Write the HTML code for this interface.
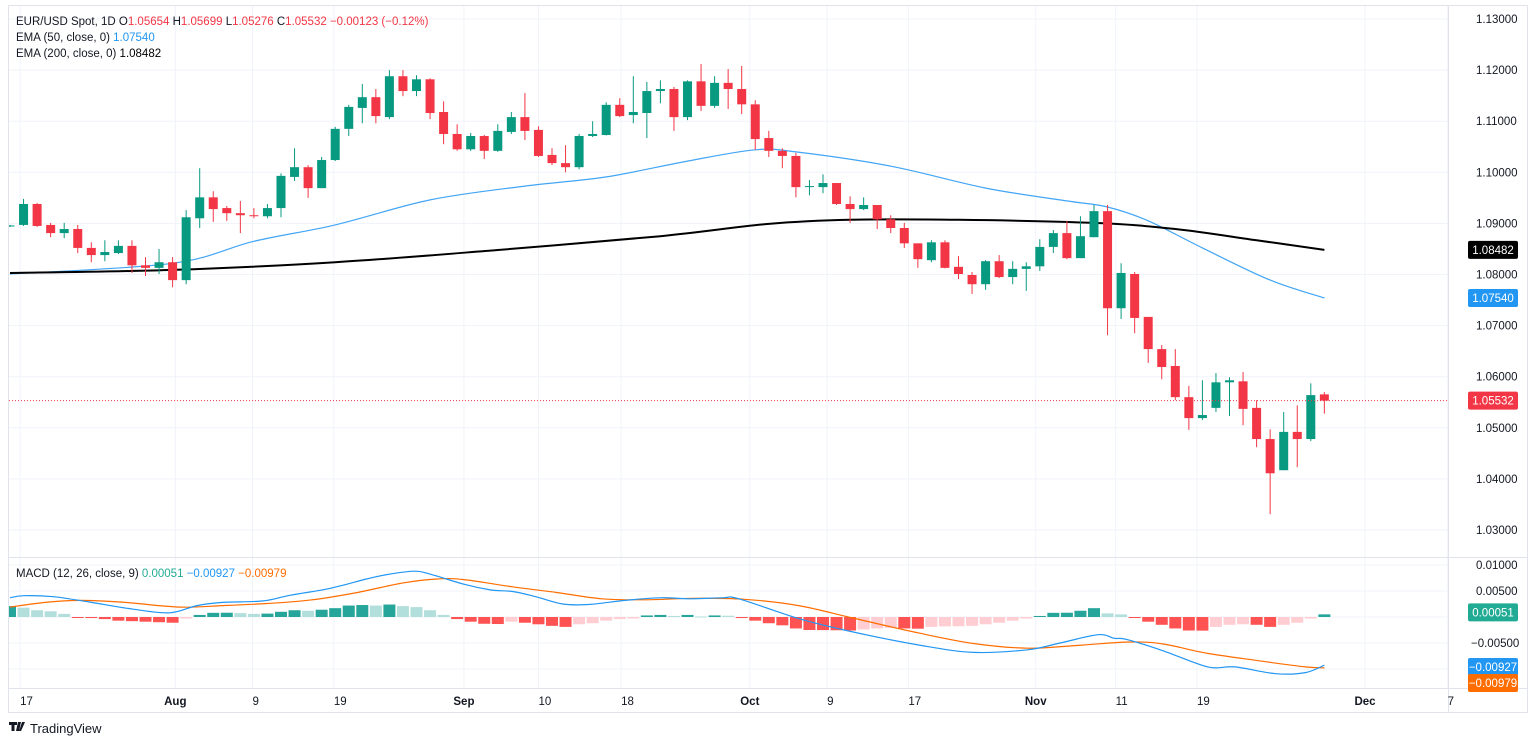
<!DOCTYPE html>
<html><head><meta charset="utf-8"><style>
body{margin:0;background:#fff;width:1536px;height:744px;overflow:hidden;font-family:"Liberation Sans",sans-serif}
svg text{font-family:"Liberation Sans",sans-serif}
</style></head><body>
<svg id="chart" width="1536" height="744" xmlns="http://www.w3.org/2000/svg"></svg>
<script>
const opens=[1.0894,1.0897,1.0938,1.0897,1.0881,1.0889,1.0852,1.0838,1.0842,1.0856,1.0818,1.0813,1.0824,1.0789,1.0910,1.0951,1.0930,1.0920,1.0916,1.0914,1.0930,1.0991,1.1010,1.0969,1.1024,1.1085,1.1126,1.1147,1.1108,1.1188,1.1159,1.1182,1.1118,1.1075,1.1045,1.1071,1.1042,1.1079,1.1108,1.1083,1.1034,1.1018,1.1010,1.1071,1.1073,1.1132,1.1112,1.1116,1.1159,1.1163,1.1108,1.1178,1.1130,1.1175,1.1163,1.1133,1.1067,1.1042,1.1032,1.0971,1.0971,1.0979,1.0938,1.0928,1.0936,1.0908,1.0891,1.0861,1.0828,1.0863,1.0815,1.0799,1.0781,1.0826,1.0795,1.0811,1.0816,1.0854,1.0881,1.0832,1.0873,1.0924,1.0734,1.0801,1.0717,1.0654,1.0621,1.0560,1.0519,1.0539,1.0589,1.0591,1.0539,1.0478,1.0417,1.0492,1.0478,1.05654];
const highs=[1.0897,1.0948,1.0940,1.0901,1.0901,1.0897,1.0863,1.0867,1.0867,1.0867,1.0834,1.0850,1.0834,1.0926,1.1008,1.0963,1.0934,1.0944,1.0930,1.0938,1.0998,1.1047,1.1014,1.1030,1.1089,1.1132,1.1173,1.1163,1.1200,1.1200,1.1190,1.1184,1.1139,1.1094,1.1077,1.1073,1.1094,1.1118,1.1155,1.1090,1.1047,1.1053,1.1075,1.1100,1.1137,1.1145,1.1188,1.1177,1.1180,1.1167,1.1180,1.1212,1.1188,1.1202,1.1208,1.1141,1.1081,1.1047,1.1038,1.0985,1.0996,1.0979,1.0953,1.0951,1.0936,1.0916,1.0901,1.0861,1.0867,1.0867,1.0836,1.0805,1.0828,1.0838,1.0826,1.0824,1.0869,1.0887,1.0905,1.0914,1.0936,1.0936,1.0822,1.0805,1.0717,1.0662,1.0654,1.0582,1.0593,1.0607,1.0599,1.0609,1.0554,1.0497,1.0531,1.0544,1.0587,1.05699];
const lows=[1.0893,1.0895,1.0893,1.0873,1.0871,1.0842,1.0824,1.0826,1.0840,1.0803,1.0797,1.0801,1.0775,1.0781,1.0891,1.0903,1.0905,1.0881,1.0910,1.0910,1.0912,1.0983,1.0950,1.0969,1.1022,1.1071,1.1096,1.1096,1.1104,1.1149,1.1149,1.1104,1.1055,1.1042,1.1042,1.1026,1.1040,1.1075,1.1063,1.1030,1.1014,1.1000,1.1006,1.1069,1.1072,1.1108,1.1096,1.1067,1.1135,1.1081,1.1102,1.1120,1.1126,1.1124,1.1114,1.1044,1.1030,1.1008,1.0951,1.0955,1.0959,1.0936,1.0901,1.0926,1.0889,1.0881,1.0852,1.0813,1.0824,1.0812,1.0791,1.0762,1.0770,1.0793,1.0781,1.0768,1.0807,1.0842,1.0830,1.0832,1.0873,1.0681,1.0713,1.0685,1.0627,1.0595,1.0554,1.0496,1.0515,1.0531,1.0523,1.0505,1.0462,1.0331,1.0417,1.0423,1.0474,1.05276];
const closes=[1.0896,1.0938,1.0895,1.0881,1.0889,1.0852,1.0838,1.0844,1.0856,1.0818,1.0813,1.0824,1.0789,1.0912,1.0951,1.0928,1.0920,1.0916,1.0914,1.0930,1.0993,1.1010,1.0969,1.1024,1.1085,1.1128,1.1147,1.1110,1.1188,1.1159,1.1182,1.1116,1.1075,1.1045,1.1071,1.1042,1.1081,1.1108,1.1081,1.1032,1.1018,1.1010,1.1071,1.1075,1.1132,1.1110,1.1118,1.1159,1.1163,1.1108,1.1178,1.1130,1.1175,1.1163,1.1133,1.1065,1.1042,1.1032,1.0971,1.0973,1.0979,1.0938,1.0928,1.0936,1.0908,1.0891,1.0861,1.0830,1.0863,1.0813,1.0801,1.0781,1.0826,1.0795,1.0811,1.0816,1.0854,1.0881,1.0832,1.0875,1.0924,1.0734,1.0803,1.0715,1.0654,1.0619,1.0560,1.0519,1.0525,1.0589,1.0593,1.0537,1.0478,1.0411,1.0492,1.0478,1.0564,1.05532];
const ema50Idx=[0,12,18,24,31,38,44,50,55,58,65,72,78,81,84,88,93,97];
const ema50Val=[1.0801,1.0822,1.0865,1.0897,1.0946,1.0973,1.0991,1.1022,1.1044,1.1040,1.1012,1.0969,1.0944,1.0932,1.0905,1.0852,1.0789,1.0754];
const ema200Idx=[0,12,24,36,48,56,62,70,80,86,92,97];
const ema200Val=[1.0803,1.0809,1.0824,1.0848,1.0875,1.0899,1.0907,1.0907,1.0901,1.0889,1.0867,1.08482];
const histVals=[0.0021,0.0018,0.0013,0.0011,0.0006,-0.0001,-0.0002,-0.0004,-0.0007,-0.0008,-0.0009,-0.0010,-0.0011,-0.0003,0.0004,0.0008,0.00082,0.00075,0.0006,0.00065,0.0010,0.0013,0.0012,0.0014,0.0017,0.0022,0.0023,0.0022,0.0024,0.0021,0.0019,0.0013,0.0004,-0.0004,-0.0009,-0.0013,-0.00135,-0.0009,-0.0011,-0.0014,-0.0017,-0.0019,-0.0014,-0.0012,-0.0007,-0.0004,-0.0003,0.0003,0.0004,0.0002,0.0004,0.0001,0.0003,0.00025,-0.0002,-0.0007,-0.0012,-0.0016,-0.0022,-0.0025,-0.00252,-0.00255,-0.0026,-0.0024,-0.0022,-0.0021,-0.0022,-0.00225,-0.0019,-0.0018,-0.00178,-0.0017,-0.0014,-0.0011,-0.0007,-0.0003,0.0002,0.0008,0.00082,0.0012,0.0017,0.0007,0.0005,-0.0002,-0.0009,-0.0015,-0.0022,-0.0026,-0.00262,-0.0019,-0.0015,-0.0014,-0.0015,-0.0019,-0.0015,-0.0011,-0.0003,0.00051];
const macdIdx=[0,1,3.2,5.8,9.1,11.8,13.8,15.7,18.7,20.7,23.6,26.3,27.9,29.9,31.2,33.5,35.5,37.1,38.8,40.8,42.7,45.4,48,50.2,52.6,53.8,58.2,61.9,67.1,71.1,75.1,77.5,80.3,81.5,82.4,85.1,88.4,90.4,93.4,95.6,97];
const macdVal=[0.0037,0.0041,0.0039,0.0029,0.0015,0.0008,0.0022,0.0028,0.0031,0.0042,0.0055,0.0073,0.0082,0.0088,0.0081,0.0063,0.0052,0.0049,0.0039,0.0025,0.0024,0.0032,0.0037,0.0035,0.0037,0.0035,-0.0003,-0.0027,-0.0054,-0.0068,-0.0063,-0.0050,-0.0034,-0.0041,-0.0043,-0.0065,-0.0096,-0.0096,-0.0109,-0.0107,-0.00927];
const sigIdx=[0,2.6,5.2,8.5,12.5,15.7,19,22.3,25.6,28.9,31.5,33.5,37.1,40.4,43.7,47,50.3,54.2,58.2,62.2,67.1,71.1,75.1,79.1,82.7,85.1,88.4,92.4,95.6,97];
const sigVal=[0.0019,0.0028,0.0032,0.0028,0.0019,0.0022,0.0026,0.0033,0.0047,0.0065,0.0073,0.0072,0.0058,0.0047,0.0035,0.0033,0.0036,0.0034,0.0022,-0.0002,-0.0031,-0.0051,-0.0060,-0.0054,-0.0048,-0.0052,-0.0070,-0.0085,-0.0096,-0.00979];
const priceTicks=[1.13,1.12,1.11,1.10,1.09,1.08,1.07,1.06,1.05,1.04,1.03];
const macdTicks=[0.01,0.005,-0.005];
const xTickLabels=["17","Aug","9","19","Sep","10","18","Oct","9","17","Nov","11","19","Dec","7"];
const xTickIdx=[0.75,12.2,17.9,23.9,33.5,39,45.1,54.6,60.3,66.3,75.7,81.6,87.6,100,106.1];
const xTickBold=[0,1,0,0,1,0,0,1,0,0,1,0,0,1,0];

const GREEN='#089981',RED='#f23645';
const svg=document.getElementById('chart');
const NS='http://www.w3.org/2000/svg';
function X(i){return 10+i*13.55;}
function PY(p){return 19+(1.13-p)*5110;}
function MY(v){return 617-v*5200;}
function mk(tag,attrs,parent){const e=document.createElementNS(NS,tag);for(const k in attrs)e.setAttribute(k,attrs[k]);(parent||svg).appendChild(e);return e;}
function txt(s,attrs,parent){const e=mk('text',attrs,parent);e.textContent=s;return e;}

const defs=mk('defs',{});
const cp1=mk('clipPath',{id:'cpPrice'},defs);mk('rect',{x:9,y:6,width:1439,height:551},cp1);
const cp2=mk('clipPath',{id:'cpMacd'},defs);mk('rect',{x:9,y:558,width:1439,height:130},cp2);

const frame=mk('rect',{x:8.5,y:5.5,width:1519,height:707,fill:'none',stroke:'#e0e3eb'});


const grid=mk('g',{});


priceTicks.forEach(p=>{mk('line',{x1:9,x2:1448,y1:PY(p),y2:PY(p),stroke:'#f0f3fa'},grid);});
[0.01,0.005,0,-0.005,-0.01].forEach(v=>{mk('line',{x1:9,x2:1448,y1:MY(v),y2:MY(v),stroke:'#f0f3fa'},grid);});
xTickIdx.forEach(i=>{mk('line',{x1:X(i),x2:X(i),y1:6,y2:688,stroke:'#f0f3fa'},grid);});
mk('line',{x1:1448.5,x2:1448.5,y1:6,y2:712,stroke:'#e0e3eb'});
mk('line',{x1:9,x2:1527,y1:557.5,y2:557.5,stroke:'#e0e3eb'});
mk('line',{x1:9,x2:1527,y1:688.5,y2:688.5,stroke:'#e0e3eb'});

const pricePane=mk('g',{'clip-path':'url(#cpPrice)'});


const macdPane=mk('g',{'clip-path':'url(#cpMacd)'});



function line(idx,vals,yf,color,w,name,parent){
  const pts=idx.map((i,k)=>[X(i),yf(vals[k])]);
  let d='M'+pts[0][0].toFixed(1)+' '+pts[0][1].toFixed(1);
  for(let k=0;k<pts.length-1;k++){
    const p0=pts[Math.max(0,k-1)],p1=pts[k],p2=pts[k+1],p3=pts[Math.min(pts.length-1,k+2)];
    const c1x=p1[0]+(p2[0]-p0[0])/6,c1y=p1[1]+(p2[1]-p0[1])/6;
    const c2x=p2[0]-(p3[0]-p1[0])/6,c2y=p2[1]-(p3[1]-p1[1])/6;
    d+=' C'+c1x.toFixed(1)+' '+c1y.toFixed(1)+' '+c2x.toFixed(1)+' '+c2y.toFixed(1)+' '+p2[0].toFixed(1)+' '+p2[1].toFixed(1);
  }
  const e=mk('path',{d:d,fill:'none',stroke:color,'stroke-width':w,'stroke-linejoin':'round'},parent);
  
  
}
line(ema50Idx,ema50Val,PY,'#42a5f5',1.2,'ema50-line',pricePane);
line(ema200Idx,ema200Val,PY,'#000',2,'ema200-line',pricePane);

const cg=mk('g',{},pricePane);


for(let i=0;i<opens.length;i++){
  const o=opens[i],c=closes[i],col=c>=o?GREEN:RED,x=X(i);
  const g=mk('g',{},cg);
  
  
  mk('line',{x1:x,x2:x,y1:PY(highs[i]),y2:PY(lows[i]),stroke:col,'stroke-width':1},g);
  const t=PY(Math.max(o,c)),b=PY(Math.min(o,c));
  mk('rect',{x:x-4.5,y:t,width:9,height:Math.max(1,b-t),fill:col},g);
}
const lastC=closes[closes.length-1];
mk('line',{x1:9,x2:1448,y1:PY(lastC),y2:PY(lastC),stroke:RED,'stroke-dasharray':'1 2'});

const hg=mk('g',{},macdPane);


for(let i=0;i<histVals.length;i++){
  const v=histVals[i],pv=i?histVals[i-1]:v;
  let col;
  if(v>=0)col=v>=pv?'#26a69a':'#b2dfdb';else col=v<=pv?'#ff5252':'#ffcdd2';
  const y0=MY(0),y1=MY(v);
  const r=mk('rect',{x:X(i)-6,y:Math.min(y0,y1),width:12,height:Math.max(1,Math.abs(y1-y0)),fill:col},hg);
  
  
}
line(sigIdx,sigVal,MY,'#ff6d00',1.2,'macd-signal-line',macdPane);
line(macdIdx,macdVal,MY,'#2196f3',1.2,'macd-line',macdPane);

const ax=mk('g',{});


priceTicks.forEach(p=>{txt(p.toFixed(5),{x:1476,y:PY(p)+4,'font-size':11.5,fill:'#131722'},ax);});
const mx=mk('g',{});


macdTicks.forEach(v=>{txt((v<0?'−':'')+Math.abs(v).toFixed(5),{x:v<0?1471:1476,y:MY(v)+4,'font-size':11.5,fill:'#131722'},mx);});
function badge(v,y,col,name){
  const g=mk('g',{});
  
  
  mk('rect',{x:1468,y:y-9,width:50,height:18,rx:2,fill:col},g);
  txt(v,{x:1493,y:y+4,'font-size':11.5,fill:'#fff','text-anchor':'middle'},g);
}
badge(ema200Val[ema200Val.length-1].toFixed(5),PY(ema200Val[ema200Val.length-1]),'#000','ema200-badge');
badge(ema50Val[ema50Val.length-1].toFixed(5),PY(ema50Val[ema50Val.length-1]),'#2196f3','ema50-badge');
badge(lastC.toFixed(5),PY(lastC),RED,'last-price-badge');
badge(histVals[histVals.length-1].toFixed(5),MY(histVals[histVals.length-1])-2,'#22ab94','histogram-badge');
badge('−'+Math.abs(macdVal[macdVal.length-1]).toFixed(5),667,'#2196f3','macd-badge');
badge('−'+Math.abs(sigVal[sigVal.length-1]).toFixed(5),683,'#ff6d00','signal-badge');

const xa=mk('g',{});


xTickLabels.forEach((s,k)=>{txt(s,{x:X(xTickIdx[k]),y:705,'font-size':11.5,fill:'#131722','text-anchor':s.length>2?'middle':'start','font-weight':xTickBold[k]?'bold':'normal'},xa);});

const lg=mk('g',{});


const t1=txt('',{x:16,y:25,'font-size':11.5,fill:'#131722'},lg);
t1.innerHTML='EUR/USD Spot, 1D  O<tspan fill="#f23645">1.05654</tspan>  H<tspan fill="#f23645">1.05699</tspan>  L<tspan fill="#f23645">1.05276</tspan>  C<tspan fill="#f23645">1.05532</tspan>  <tspan fill="#f23645">−0.00123 (−0.12%)</tspan>';
t1.setAttribute('xml:space','preserve');
const t2=txt('',{x:16,y:41,'font-size':11.5,fill:'#131722'},lg);
t2.innerHTML='EMA (50, close, 0)  <tspan fill="#2196f3">1.07540</tspan>';
t2.setAttribute('xml:space','preserve');
const t3=txt('',{x:16,y:57,'font-size':11.5,fill:'#131722'},lg);
t3.innerHTML='EMA (200, close, 0)  <tspan fill="#000">1.08482</tspan>';
t3.setAttribute('xml:space','preserve');
const t4=txt('',{x:16,y:577,'font-size':11.5,fill:'#131722'},lg);
t4.innerHTML='MACD (12, 26, close, 9)  <tspan fill="#22ab94">0.00051</tspan>  <tspan fill="#2196f3">−0.00927</tspan>  <tspan fill="#ff6d00">−0.00979</tspan>';
t4.setAttribute('xml:space','preserve');

const logo=mk('g',{});


mk('path',{d:'M9 722h8v3h-2.5v6h-3v-6H9z M18 722h3l-2 9h-3z M22 722h3l-4 9h-2z',fill:'#131722'},logo);
txt('TradingView',{x:30,y:733,'font-size':13,fill:'#131722'},logo);
</script>
</body></html>
